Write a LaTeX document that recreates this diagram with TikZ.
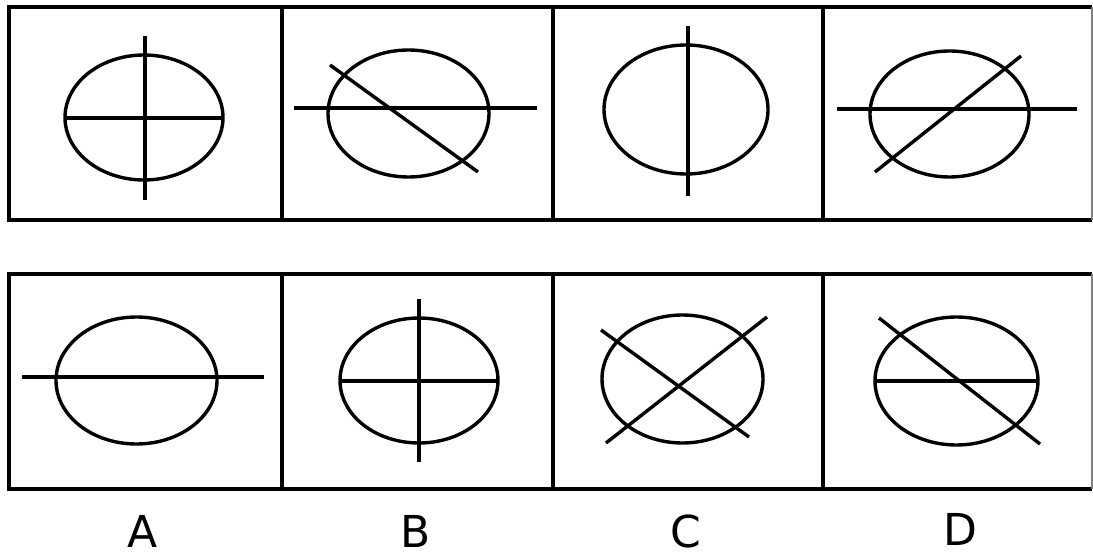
\documentclass[tikz,border=0pt]{standalone}
\usepackage{fontspec}
\setsansfont{DejaVu Sans}
\usepackage{tikz}
\usetikzlibrary{positioning}

\begin{document}
\begin{tikzpicture}[x=1pt,y=-1pt,line width=3.4pt,
   frame/.style={draw,line width=3.8pt},
   oval/.style={draw,line width=3.4pt},
   lab/.style={font=\sffamily\fontsize{44}{44}\selectfont,inner sep=0pt,anchor=base}]
  \useasboundingbox (0,0) rectangle (1093,556);
  % the two rows of cells
  \draw[frame] (1092,7) -- (9,7) -- (9,220) -- (1092,220);
  \draw[frame] (1092,274) -- (9,274) -- (9,489) -- (1092,489);
  \draw[line width=1.5pt,gray] (1092,7) -- (1092,220);
  \draw[line width=1.5pt,gray] (1092,274) -- (1092,489);
  \foreach \x in {282,553,823}{
    \draw[frame] (\x,7) -- (\x,220);
    \draw[frame] (\x,274) -- (\x,489);
  }
  % top row
  \draw[oval] (144,117.5) ellipse (79 and 62.5);
  \draw (145,36) -- (145,200);
  \draw (65,118) -- (223,118);
  \draw[oval] (408.5,113.5) ellipse (80.5 and 63.5);
  \draw (294,108) -- (537,108);
  \draw (330,65) -- (478,172);
  \draw[oval] (686,109.5) ellipse (82 and 64.5);
  \draw (688,26) -- (688,196);
  \draw[oval] (949.5,114) ellipse (79.5 and 63);
  \draw (837,109) -- (1077,109);
  \draw (875,172) -- (1021,56);
  % bottom row (answers)
  \draw[oval] (136.5,380.5) ellipse (80.5 and 63.5);
  \draw (22,377) -- (264,377);
  \draw[oval] (419,380.5) ellipse (79 and 62.5);
  \draw (419,299) -- (419,462);
  \draw (340,381) -- (498,381);
  \draw[oval] (682.5,379) ellipse (80.5 and 64);
  \draw (601,330) -- (749,437);
  \draw (606,443) -- (767,317);
  \draw[oval] (956.5,381) ellipse (81.5 and 64);
  \draw (875,381) -- (1038,381);
  \draw (879,318) -- (1040,444);
  % labels
  \node[lab] (la) at (143,547) {A};
  \node[lab] (lb) at (416,547) {B};
  \node[lab] (lc) at (686,547) {C};
  \node[lab] (ld) at (960,545) {D};
\end{tikzpicture}
\end{document}
